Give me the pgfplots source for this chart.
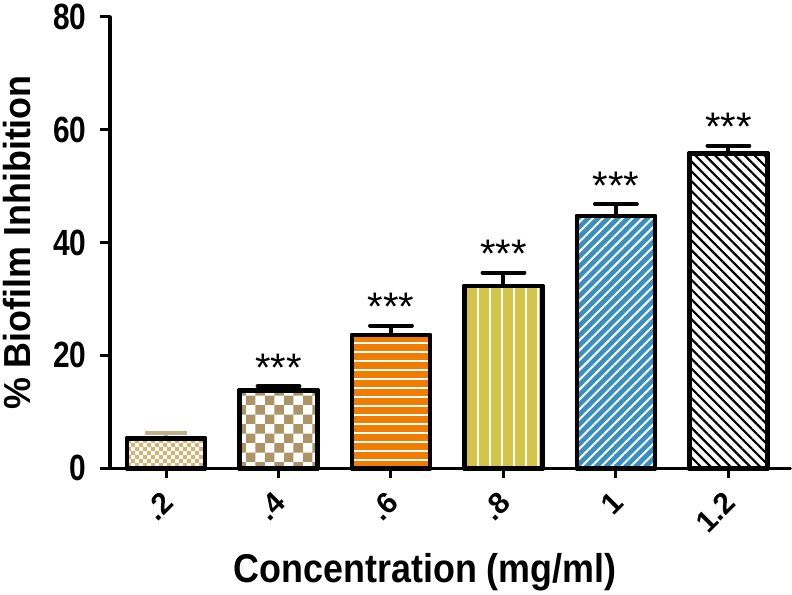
\documentclass[border=0pt]{standalone}
\usepackage{pgfplots}
\pgfplotsset{compat=1.18}
\usepackage{fontspec}
\setmainfont{Liberation Sans}
\usetikzlibrary{patterns,patterns.meta}
\definecolor{cTanA}{RGB}{214,180,118}
\definecolor{cTanB}{RGB}{172,148,100}
\definecolor{cTanErr}{RGB}{190,178,140}
\definecolor{cOrange}{RGB}{240,125,0}
\definecolor{cYellow}{RGB}{212,196,74}
\definecolor{cBlue}{RGB}{58,143,190}
\pgfdeclarepatternformonly{checkfine}{\pgfqpoint{0pt}{0pt}}{\pgfqpoint{8pt}{8pt}}{\pgfqpoint{8pt}{8pt}}{%
  \pgfpathrectangle{\pgfqpoint{0pt}{0pt}}{\pgfqpoint{4pt}{4pt}}%
  \pgfpathrectangle{\pgfqpoint{4pt}{4pt}}{\pgfqpoint{4pt}{4pt}}%
  \pgfusepath{fill}}
\pgfdeclarepatternformonly{checkcoarse}{\pgfqpoint{0pt}{0pt}}{\pgfqpoint{19pt}{19pt}}{\pgfqpoint{19pt}{19pt}}{%
  \pgfpathrectangle{\pgfqpoint{0pt}{0pt}}{\pgfqpoint{9.5pt}{9.5pt}}%
  \pgfpathrectangle{\pgfqpoint{9.5pt}{9.5pt}}{\pgfqpoint{9.5pt}{9.5pt}}%
  \pgfusepath{fill}}
\begin{document}
\begin{tikzpicture}
\begin{axis}[
  scale only axis,
  width=683pt, height=453pt,
  xmin=-0.5, xmax=5.55,
  ymin=0, ymax=80,
  ytick={0,20,40,60,80},
  xtick={0,1,2,3,4,5},
  xticklabels={.2,.4,.6,.8,1,1.2},
  axis x line*=bottom, axis y line*=left,
  axis line style={line width=3.5pt, line cap=round},
  tick style={line width=3pt, black},
  major tick length=10pt,
  tick align=outside,
  /pgf/number format/assume math mode=true,
  tick label style={font=\fontsize{30}{34}\selectfont\bfseries},
  xticklabel style={rotate=45, anchor=east, yshift=-15pt, xshift=-9pt},
  yticklabel style={yscale=1.22, xshift=-10pt},
  ylabel={\% Biofilm Inhibition},
  xlabel={Concentration (mg/ml)},
  label style={font=\fontsize{36}{40}\selectfont\bfseries},
  ylabel style={yshift=15pt, yscale=1.05},
  xlabel style={yshift=-10pt, xshift=-25pt, yscale=1.12},
  ybar, bar width=78pt, bar shift=0pt,
  clip=false,
  every axis plot/.append style={line width=4.5pt, line join=round},
  error bars/y dir=plus, error bars/y explicit,
  error bars/error bar style={line width=4pt, black},
  error bars/error mark options={line width=4pt, mark size=21pt, black, rotate=90, line cap=round},
]
\addplot[draw=black, fill=white, postaction={pattern=checkfine, pattern color=cTanA},
  error bars/error bar style={line width=4pt, cTanErr},
  error bars/error mark options={line width=4pt, mark size=21pt, cTanErr, rotate=90}]
  coordinates {(0,5.3) +- (0,0.9)};
\addplot[draw=black, fill=white, postaction={pattern=checkcoarse, pattern color=cTanB}]
  coordinates {(1,13.8) +- (0,0.7)};
\addplot[draw=black, fill=cOrange, postaction={pattern={Lines[angle=0,distance=9pt,line width=2.2pt]}, pattern color=white}]
  coordinates {(2,23.6) +- (0,1.7)};
\addplot[draw=black, fill=cYellow, postaction={pattern={Lines[angle=90,distance=12pt,line width=2pt]}, pattern color=white}]
  coordinates {(3,32.3) +- (0,2.4)};
\addplot[draw=black, fill=cBlue, postaction={pattern={Lines[angle=45,distance=7pt,line width=2pt]}, pattern color=white}]
  coordinates {(4,44.7) +- (0,2.1)};
\addplot[draw=black, fill=white, postaction={pattern={Lines[angle=-45,distance=7pt,line width=2.2pt]}, pattern color=black}]
  coordinates {(5,55.8) +- (0,1.4)};
% redraw outlines on top of the patterns
\addplot[draw=black, fill=none, forget plot, error bars/y dir=none] coordinates {(0,5.3) (1,13.8) (2,23.6) (3,32.3) (4,44.7) (5,55.8)};
\foreach \x/\y in {1/14.5,2/25.3,3/34.7,4/46.8,5/57.2}{
  \edef\tmp{\noexpand\node[anchor=base, font=\noexpand\fontsize{40}{42}\noexpand\selectfont, inner sep=0pt] at (axis cs:\x,\y+0.9) {***};}
  \tmp
}
\end{axis}
\end{tikzpicture}
\end{document}
